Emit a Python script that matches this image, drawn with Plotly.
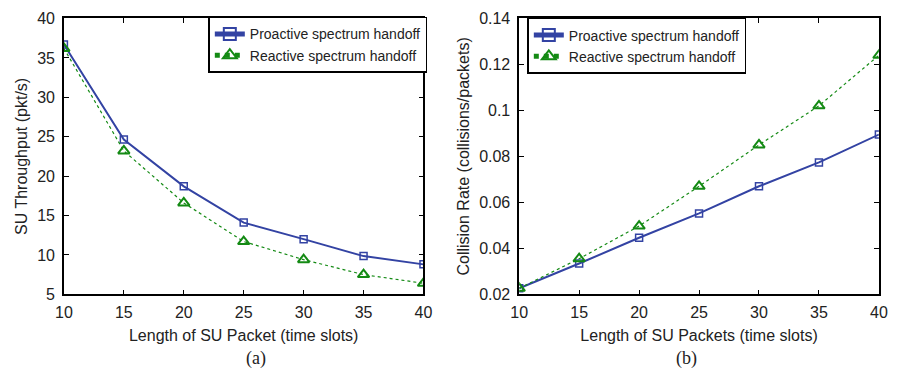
import plotly.graph_objects as go

x_len = [10, 15, 20, 25, 30, 35, 40]
thr_proactive = [36.7, 24.65, 18.7, 14.1, 12.0, 9.85, 8.8]
thr_reactive = [36.2, 23.2, 16.6, 11.7, 9.4, 7.5, 6.4]
col_proactive = [0.0226, 0.0334, 0.0446, 0.0552, 0.067, 0.0774, 0.0895]
col_reactive = [0.0226, 0.0355, 0.0497, 0.067, 0.085, 0.102, 0.124]

BLUE = "#3343A3"
GREEN = "#148A14"
FONT = "Liberation Sans, Arial, sans-serif"

fig = go.Figure()

def add_pair(xa, ya, yp, yr, legend):
    fig.add_trace(go.Scatter(
        x=x_len, y=yp, xaxis=xa, yaxis=ya, name="Proactive spectrum handoff",
        mode="lines+markers", legend=legend,
        line=dict(color=BLUE, width=2),
        marker=dict(symbol="square-open", size=7, color=BLUE, line=dict(width=1.5, color=BLUE))))
    fig.add_trace(go.Scatter(
        x=x_len, y=yr, xaxis=xa, yaxis=ya, name="Reactive spectrum handoff",
        mode="lines+markers", legend=legend,
        line=dict(color=GREEN, width=1.2, dash="dot"),
        marker=dict(symbol="triangle-up-open", size=10, color=GREEN, line=dict(width=2, color=GREEN))))

add_pair("x", "y", thr_proactive, thr_reactive, "legend")
add_pair("x2", "y2", col_proactive, col_reactive, "legend2")

axis_common = dict(showline=True, linecolor="black", linewidth=1.5, mirror="ticks",
                   ticks="inside", ticklen=5, tickcolor="black", showgrid=False, zeroline=False,
                   tickfont=dict(family=FONT, size=16, color="#222"))

fig.update_layout(
    width=898, height=374,
    margin=dict(l=0, r=0, t=0, b=0),
    paper_bgcolor="white", plot_bgcolor="white",
    font=dict(family=FONT, size=16, color="#222"),
    xaxis=dict(domain=[0.0624, 0.471], range=[10, 40], dtick=5, anchor="y", ticklabelstandoff=3,
               title=dict(text="Length of SU Packet (time slots)", standoff=10, font=dict(size=16)),
               **axis_common),
    yaxis=dict(domain=[0.198, 0.9706], range=[5, 40], dtick=5, anchor="x", ticklabelstandoff=4,
               title=dict(text="SU Throughput (pkt/s)", standoff=6, font=dict(size=16)),
               **axis_common),
    xaxis2=dict(domain=[0.5798, 0.9885], range=[10, 40], dtick=5, anchor="y2", ticklabelstandoff=3,
                title=dict(text="Length of SU Packets (time slots)", standoff=10, font=dict(size=16)),
                **axis_common),
    yaxis2=dict(domain=[0.198, 0.9706], range=[0.02, 0.14], dtick=0.02, anchor="x2", ticklabelstandoff=4,
                title=dict(text="Collision Rate (collisions/packets)", standoff=6, font=dict(size=16)),
                **axis_common),
    legend=dict(x=0.2265, y=0.975, xanchor="left", yanchor="top", bgcolor="white",
                bordercolor="black", borderwidth=1.5, font=dict(family=FONT, size=14),
                tracegroupgap=0, itemsizing="constant"),
    legend2=dict(x=0.589, y=0.972, xanchor="left", yanchor="top", bgcolor="white",
                 bordercolor="black", borderwidth=1.5, font=dict(family=FONT, size=14),
                 tracegroupgap=0, itemsizing="constant"),
    annotations=[
        dict(text="(a)", x=0.267, y=1 - 367 / 374, xref="paper", yref="paper", showarrow=False,
             yanchor="middle",
             font=dict(family="Liberation Serif, Times New Roman, serif", size=18, color="#222")),
        dict(text="(b)", x=0.784, y=1 - 367 / 374, xref="paper", yref="paper", showarrow=False,
             yanchor="middle",
             font=dict(family="Liberation Serif, Times New Roman, serif", size=18, color="#222")),
    ],
)

fig.write_html("out.html")
